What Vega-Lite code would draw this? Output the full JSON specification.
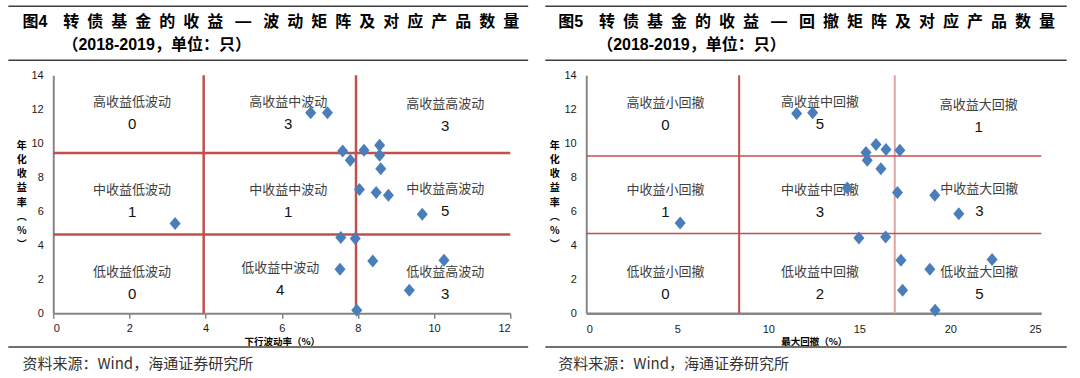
{
  "$schema": "https://vega.github.io/schema/vega-lite/v6.json",
  "autosize": {"type": "pad"},
  "padding": {"left": 7.25, "top": 5.25, "right": 0, "bottom": 0},
  "background": "white",
  "bounds": "flush",
  "spacing": 76,
  "config": {
    "view": {"stroke": null},
    "axis": {
      "grid": false,
      "labelFont": "Liberation Sans Narrow, Liberation Sans, Arial",
      "labelFontSize": 11,
      "labelColor": "#1a1a1a",
      "labelOverlap": false,
      "domainColor": "#868686",
      "domainWidth": 2,
      "titleFont": "Noto Sans CJK SC",
      "titleFontWeight": "bold",
      "titleColor": "#000000"
    }
  },
  "datasets": {
    "vol": [
      {"volatility": 3.2, "return": 5.28},
      {"volatility": 6.76, "return": 11.8},
      {"volatility": 7.2, "return": 11.8},
      {"volatility": 7.6, "return": 9.55},
      {"volatility": 7.8, "return": 9.0},
      {"volatility": 8.16, "return": 9.59},
      {"volatility": 8.57, "return": 9.88},
      {"volatility": 8.57, "return": 9.29},
      {"volatility": 8.6, "return": 8.5},
      {"volatility": 8.04, "return": 7.28},
      {"volatility": 8.48, "return": 7.1},
      {"volatility": 8.8, "return": 6.94},
      {"volatility": 9.69, "return": 5.82},
      {"volatility": 7.55, "return": 4.45},
      {"volatility": 7.93, "return": 4.39},
      {"volatility": 8.39, "return": 3.08},
      {"volatility": 10.26, "return": 3.12},
      {"volatility": 7.53, "return": 2.59},
      {"volatility": 9.35, "return": 1.35},
      {"volatility": 7.97, "return": 0.18}
    ],
    "dd": [
      {"drawdown": 5.16, "return": 5.31},
      {"drawdown": 11.56, "return": 11.75},
      {"drawdown": 12.44, "return": 11.8},
      {"drawdown": 15.92, "return": 9.92},
      {"drawdown": 15.37, "return": 9.45},
      {"drawdown": 16.47, "return": 9.63},
      {"drawdown": 17.23, "return": 9.59},
      {"drawdown": 15.44, "return": 9.0},
      {"drawdown": 16.19, "return": 8.5},
      {"drawdown": 14.34, "return": 7.37},
      {"drawdown": 17.1, "return": 7.1},
      {"drawdown": 19.15, "return": 6.94},
      {"drawdown": 20.47, "return": 5.86},
      {"drawdown": 14.98, "return": 4.43},
      {"drawdown": 16.45, "return": 4.49},
      {"drawdown": 17.29, "return": 3.12},
      {"drawdown": 22.3, "return": 3.16},
      {"drawdown": 18.88, "return": 2.59},
      {"drawdown": 17.38, "return": 1.35},
      {"drawdown": 19.17, "return": 0.18}
    ],
    "volQuad": [
      {"label": "高收益低波动", "count": "0", "x": 2.07, "y": 12.41},
      {"label": "高收益中波动", "count": "3", "x": 6.17, "y": 12.41},
      {"label": "高收益高波动", "count": "3", "x": 10.29, "y": 12.29},
      {"label": "中收益低波动", "count": "1", "x": 2.07, "y": 7.24},
      {"label": "中收益中波动", "count": "1", "x": 6.17, "y": 7.24},
      {"label": "中收益高波动", "count": "5", "x": 10.29, "y": 7.29},
      {"label": "低收益低波动", "count": "0", "x": 2.07, "y": 2.41},
      {"label": "低收益中波动", "count": "4", "x": 5.96, "y": 2.65},
      {"label": "低收益高波动", "count": "3", "x": 10.29, "y": 2.41}
    ],
    "ddQuad": [
      {"label": "高收益小回撤", "count": "0", "x": 4.35, "y": 12.35},
      {"label": "高收益中回撤", "count": "5", "x": 12.84, "y": 12.41},
      {"label": "高收益大回撤", "count": "1", "x": 21.56, "y": 12.24},
      {"label": "中收益小回撤", "count": "1", "x": 4.35, "y": 7.24},
      {"label": "中收益中回撤", "count": "3", "x": 12.84, "y": 7.24},
      {"label": "中收益大回撤", "count": "3", "x": 21.6, "y": 7.29},
      {"label": "低收益小回撤", "count": "0", "x": 4.35, "y": 2.41},
      {"label": "低收益中回撤", "count": "2", "x": 12.84, "y": 2.41},
      {"label": "低收益大回撤", "count": "5", "x": 21.6, "y": 2.41}
    ]
  },
  "hconcat": [
    {
      "width": 457,
      "height": 238,
      "resolve": {"axis": {"x": "independent", "y": "independent"}},
      "layer": [
        {
          "data": {"values": [{}]},
          "mark": {"type": "rule", "color": "#404040", "strokeWidth": 1.5},
          "encoding": {
            "x": {"datum": -1.18, "axis": null},
            "x2": {"datum": 12.47},
            "y": {"datum": 18.06, "axis": null}
          }
        },
        {
          "data": {"values": [{}]},
          "mark": {"type": "rule", "color": "#404040", "strokeWidth": 1.5},
          "encoding": {
            "x": {"datum": -1.18, "axis": null},
            "x2": {"datum": 12.47},
            "y": {"datum": 14.88, "axis": null}
          }
        },
        {
          "data": {"values": [{}]},
          "mark": {"type": "rule", "color": "#404040", "strokeWidth": 1.5},
          "encoding": {
            "x": {"datum": -1.18, "axis": null},
            "x2": {"datum": 12.47},
            "y": {"datum": -1.98, "axis": null}
          }
        },
        {
          "data": {"values": [{}]},
          "mark": {"type": "text", "align": "left", "baseline": "middle", "font": "Liberation Sans, Noto Sans CJK SC", "fontSize": 16, "fontWeight": "bold", "color": "#000000"},
          "encoding": {
            "x": {"datum": -0.81, "axis": null},
            "y": {"datum": 17.12, "axis": null},
            "text": {"value": "图4\u2003转\u2002债\u2002基\u2002金\u2002的\u2002收\u2002益\u2002\u2005—\u2005\u2002波\u2002动\u2002矩\u2002阵\u2002及\u2002对\u2002应\u2002产\u2002品\u2002数\u2002量"}
          }
        },
        {
          "data": {"values": [{}]},
          "mark": {"type": "text", "align": "left", "baseline": "middle", "font": "Liberation Sans, Noto Sans CJK SC", "fontSize": 16, "fontWeight": "bold", "color": "#000000"},
          "encoding": {
            "x": {"datum": 0.24, "axis": null},
            "y": {"datum": 15.76, "axis": null},
            "text": {"value": "（2018-2019，单位：只）"}
          }
        },
        {
          "data": {"values": [{}]},
          "mark": {"type": "text", "align": "left", "baseline": "middle", "font": "Noto Sans CJK SC", "fontSize": 15, "color": "#333333"},
          "encoding": {
            "x": {"datum": -0.81, "axis": null},
            "y": {"datum": -3.0, "axis": null},
            "text": {"value": "资料来源：Wind，海通证券研究所"}
          }
        },
        {
          "data": {"values": [{"threshold": 3.95}, {"threshold": 7.95}]},
          "mark": {"type": "rule", "color": "#C0504D", "strokeWidth": 2.5},
          "encoding": {
            "x": {"field": "threshold", "type": "quantitative", "axis": null},
            "y": {"datum": 0, "axis": null},
            "y2": {"datum": 14}
          }
        },
        {
          "data": {"values": [{"threshold": 9.43}, {"threshold": 4.63}]},
          "mark": {"type": "rule", "color": "#C0504D", "strokeWidth": 2.5},
          "encoding": {
            "y": {"field": "threshold", "type": "quantitative", "axis": null},
            "x": {"datum": 0, "axis": null},
            "x2": {"datum": 12}
          }
        },
        {
          "data": {"name": "volQuad"},
          "mark": {"type": "text", "font": "Noto Sans CJK SC", "fontSize": 13, "color": "#404040", "baseline": "middle"},
          "encoding": {
            "x": {"field": "x", "type": "quantitative", "axis": null},
            "y": {"field": "y", "type": "quantitative", "axis": null},
            "text": {"field": "label"}
          }
        },
        {
          "data": {"name": "volQuad"},
          "mark": {"type": "text", "font": "Liberation Sans, Arial", "fontSize": 15, "color": "#111111", "baseline": "middle", "dy": 22},
          "encoding": {
            "x": {"field": "x", "type": "quantitative", "axis": null},
            "y": {"field": "y", "type": "quantitative", "axis": null},
            "text": {"field": "count"}
          }
        },
        {
          "data": {"name": "vol"},
          "mark": {"type": "point", "shape": "M0,-1L0.85,0L0,1L-0.85,0Z", "filled": true, "size": 169, "color": "#4A7EBB", "opacity": 1},
          "encoding": {
            "x": {
              "field": "volatility", "type": "quantitative",
              "scale": {"domain": [0, 12], "nice": false},
              "axis": {
                "values": [0, 2, 4, 6, 8, 10, 12],
                "labelOverlap": false,
                "ticks": true, "tickSize": 5, "tickColor": "#868686", "tickWidth": 1.5,
                "labelPadding": 4,
                "title": "下行波动率（%）", "titleFontSize": 9.5,
                "titleY": 28, "titleBaseline": "middle"
              }
            },
            "y": {
              "field": "return", "type": "quantitative",
              "scale": {"domain": [0, 14], "nice": false},
              "axis": {
                "values": [0, 2, 4, 6, 8, 10, 12, 14],
                "labelOverlap": false, "labelFlush": false,
                "ticks": false, "labelPadding": 10,
                "title": ["年", "化", "收", "益", "率", "︵", "%", "︶"],
                "titleAngle": 0, "titleFontSize": 10, "titleLineHeight": 14.2,
                "titleAlign": "center", "titleBaseline": "middle",
                "titleX": -32, "titleY": 70
              }
            }
          }
        }
      ]
    },
    {
      "width": 455,
      "height": 238,
      "resolve": {"axis": {"x": "independent", "y": "independent"}},
      "layer": [
        {
          "data": {"values": [{}]},
          "mark": {"type": "rule", "color": "#404040", "strokeWidth": 1.5},
          "encoding": {
            "x": {"datum": -2.25, "axis": null},
            "x2": {"datum": 26.4},
            "y": {"datum": 18.06, "axis": null}
          }
        },
        {
          "data": {"values": [{}]},
          "mark": {"type": "rule", "color": "#404040", "strokeWidth": 1.5},
          "encoding": {
            "x": {"datum": -2.25, "axis": null},
            "x2": {"datum": 26.4},
            "y": {"datum": 14.88, "axis": null}
          }
        },
        {
          "data": {"values": [{}]},
          "mark": {"type": "rule", "color": "#404040", "strokeWidth": 1.5},
          "encoding": {
            "x": {"datum": -2.25, "axis": null},
            "x2": {"datum": 26.4},
            "y": {"datum": -1.98, "axis": null}
          }
        },
        {
          "data": {"values": [{}]},
          "mark": {"type": "text", "align": "left", "baseline": "middle", "font": "Liberation Sans, Noto Sans CJK SC", "fontSize": 16, "fontWeight": "bold", "color": "#000000"},
          "encoding": {
            "x": {"datum": -1.54, "axis": null},
            "y": {"datum": 17.12, "axis": null},
            "text": {"value": "图5\u2003转\u2002债\u2002基\u2002金\u2002的\u2002收\u2002益\u2002\u2005—\u2005\u2002回\u2002撤\u2002矩\u2002阵\u2002及\u2002对\u2002应\u2002产\u2002品\u2002数\u2002量"}
          }
        },
        {
          "data": {"values": [{}]},
          "mark": {"type": "text", "align": "left", "baseline": "middle", "font": "Liberation Sans, Noto Sans CJK SC", "fontSize": 16, "fontWeight": "bold", "color": "#000000"},
          "encoding": {
            "x": {"datum": 0.6, "axis": null},
            "y": {"datum": 15.76, "axis": null},
            "text": {"value": "（2018-2019，单位：只）"}
          }
        },
        {
          "data": {"values": [{}]},
          "mark": {"type": "text", "align": "left", "baseline": "middle", "font": "Noto Sans CJK SC", "fontSize": 15, "color": "#333333"},
          "encoding": {
            "x": {"datum": -1.54, "axis": null},
            "y": {"datum": -3.0, "axis": null},
            "text": {"value": "资料来源：Wind，海通证券研究所"}
          }
        },
        {
          "data": {"values": [{"threshold": 8.4}]},
          "mark": {"type": "rule", "color": "#C0504D", "strokeWidth": 2},
          "encoding": {
            "x": {"field": "threshold", "type": "quantitative", "axis": null},
            "y": {"datum": 0, "axis": null},
            "y2": {"datum": 14}
          }
        },
        {
          "data": {"values": [{"threshold": 16.95}]},
          "mark": {"type": "rule", "color": "#E0A3A2", "strokeWidth": 2},
          "encoding": {
            "x": {"field": "threshold", "type": "quantitative", "axis": null},
            "y": {"datum": 0, "axis": null},
            "y2": {"datum": 14}
          }
        },
        {
          "data": {"values": [{"threshold": 9.25}, {"threshold": 4.69}]},
          "mark": {"type": "rule", "color": "#C0504D", "strokeWidth": 1.5},
          "encoding": {
            "y": {"field": "threshold", "type": "quantitative", "axis": null},
            "x": {"datum": 0, "axis": null},
            "x2": {"datum": 25}
          }
        },
        {
          "data": {"name": "ddQuad"},
          "mark": {"type": "text", "font": "Noto Sans CJK SC", "fontSize": 13, "color": "#404040", "baseline": "middle"},
          "encoding": {
            "x": {"field": "x", "type": "quantitative", "axis": null},
            "y": {"field": "y", "type": "quantitative", "axis": null},
            "text": {"field": "label"}
          }
        },
        {
          "data": {"name": "ddQuad"},
          "mark": {"type": "text", "font": "Liberation Sans, Arial", "fontSize": 15, "color": "#111111", "baseline": "middle", "dy": 22},
          "encoding": {
            "x": {"field": "x", "type": "quantitative", "axis": null},
            "y": {"field": "y", "type": "quantitative", "axis": null},
            "text": {"field": "count"}
          }
        },
        {
          "data": {"name": "dd"},
          "mark": {"type": "point", "shape": "M0,-1L0.85,0L0,1L-0.85,0Z", "filled": true, "size": 169, "color": "#4A7EBB", "opacity": 1},
          "encoding": {
            "x": {
              "field": "drawdown", "type": "quantitative",
              "scale": {"domain": [0, 25], "nice": false},
              "axis": {
                "values": [0, 5, 10, 15, 20, 25],
                "labelOverlap": false,
                "ticks": false, "labelPadding": 10, "domainWidth": 2.5,
                "title": "最大回撤（%）", "titleFontSize": 9.5,
                "titleY": 28, "titleBaseline": "middle"
              }
            },
            "y": {
              "field": "return", "type": "quantitative",
              "scale": {"domain": [0, 14], "nice": false},
              "axis": {
                "values": [0, 2, 4, 6, 8, 10, 12, 14],
                "labelOverlap": false, "labelFlush": false,
                "ticks": false, "labelPadding": 10,
                "title": ["年", "化", "收", "益", "率", "︵", "%", "︶"],
                "titleAngle": 0, "titleFontSize": 10, "titleLineHeight": 14.2,
                "titleAlign": "center", "titleBaseline": "middle",
                "titleX": -32, "titleY": 70
              }
            }
          }
        }
      ]
    }
  ]
}
